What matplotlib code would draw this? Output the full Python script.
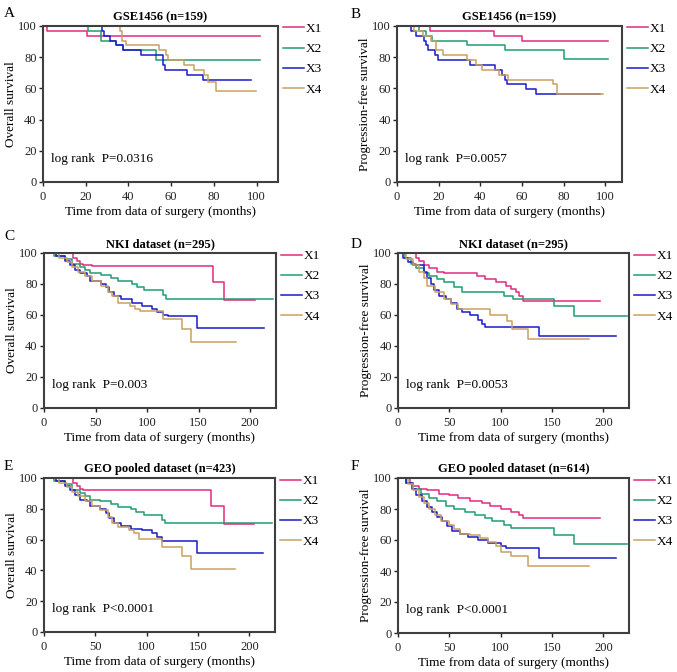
import matplotlib
matplotlib.use("Agg")
import matplotlib.pyplot as plt

plt.rcParams["font.family"] = ["Liberation Serif", "DejaVu Serif"]

# ── Data ───────────────────────────────────────────────────────────────────
GROUPS = ["X1", "X2", "X3", "X4"]
COLORS = ["#E2297E", "#1F9E6E", "#1A1AC8", "#C9A062"]

# A: GSE1456 OS
a_x1_t = [0, 2, 20.5, 101.5]
a_x1_s = [100, 96.9, 93.8, 93.8]
a_x2_t = [0, 21, 27, 34, 37.5, 53, 101.5]
a_x2_s = [100, 96.9, 90.6, 87.5, 84.4, 78.1, 78.1]
a_x3_t = [0, 27.5, 28.5, 31.5, 34, 37.5, 46, 56, 57, 67.5, 75, 97.5]
a_x3_s = [100, 96.9, 93.8, 90.6, 87.5, 84.4, 81.3, 75, 71.9, 68.8, 65.6, 65.6]
a_x4_t = [0, 36, 37, 39, 54.5, 57.5, 58.5, 66, 70.5, 75.5, 77, 81, 99.5]
a_x4_s = [100, 96.9, 90.6, 87.5, 84.4, 81.3, 78.1, 75, 71.9, 68.8, 64, 58.3, 58.3]

# B: GSE1456 PFS
b_x1_t = [0, 16, 46.5, 60, 101.5]
b_x1_s = [100, 96.9, 93.8, 90.6, 90.6]
b_x2_t = [0, 10.5, 14, 17, 33.5, 52, 80, 101.5]
b_x2_s = [100, 96.9, 93.8, 90.6, 87.5, 84.4, 78.7, 78.7]
b_x3_t = [0, 6.5, 9, 13, 14, 15, 18, 19.5, 35, 47, 50.5, 52, 53, 62, 66.5, 97.5]
b_x3_s = [100, 96.9, 93.8, 90.6, 87.5, 84.4, 81.3, 78.1, 75, 71.9, 68.8, 65.6, 62.5, 59.4, 56.3, 56.3]
b_x4_t = [0, 8, 12.5, 16.5, 18.5, 22, 33.5, 38, 41, 49, 53.5, 75, 77, 99]
b_x4_s = [100, 96.9, 93.8, 90.6, 84.4, 81.3, 78.1, 75, 71.9, 68.8, 65.6, 62.5, 56.3, 56.3]

# C: NKI OS
c_x1_t = [0, 28, 32, 35, 38, 47, 164, 175, 205]
c_x1_s = [100, 97, 95, 93, 92.5, 91.7, 81.3, 69.8, 69.8]
c_x2_t = [0, 10, 20, 27, 35, 40, 45, 55, 65, 72, 85, 90, 97, 115, 118, 222]
c_x2_s = [100, 98, 96, 93, 91, 89, 87, 86, 84, 82, 80, 78, 76, 73, 70.5, 70.5]
c_x3_t = [0, 12, 20, 25, 30, 35, 42, 45, 55, 60, 63, 68, 75, 85, 95, 105, 110, 115, 120, 148, 213]
c_x3_s = [100, 98, 95, 92, 89, 87, 85, 82, 80, 78, 75, 72, 70, 68, 66, 64, 62, 60, 59.4, 51.7, 51.7]
c_x4_t = [0, 15, 22, 27, 33, 40, 47, 55, 62, 66, 72, 83, 88, 93, 115, 134, 143, 186]
c_x4_s = [100, 97, 94, 91, 88, 85, 82, 79, 75, 72, 68, 66, 64, 62.5, 57.5, 51, 42.4, 42.4]

# D: NKI PFS
d_x1_t = [0, 18, 20, 25, 30, 38, 45, 77, 85, 95, 105, 110, 115, 118, 122, 197]
d_x1_s = [100, 97, 95, 92, 90, 88, 87, 85, 83, 81, 79, 77, 75, 72, 69.2, 69.2]
d_x2_t = [0, 7, 13, 18, 25, 30, 38, 45, 55, 62, 103, 112, 152, 171, 223]
d_x2_s = [100, 97, 93, 90, 87, 85, 83, 81, 78, 75, 72, 70, 65.5, 59.4, 59.4]
d_x3_t = [0, 5, 10, 15, 25, 28, 32, 35, 40, 47, 52, 57, 62, 70, 78, 82, 85, 137, 212]
d_x3_s = [100, 97, 94, 92, 88, 84, 80, 76, 72, 70, 68, 64, 62, 60, 57, 54, 52.5, 46.7, 46.7]
d_x4_t = [0, 8, 15, 20, 25, 28, 36, 45, 52, 58, 90, 106, 111, 127, 186]
d_x4_s = [100, 96, 92, 88, 84, 78.5, 75, 70, 67, 64, 60, 56, 51, 44.3, 44.3]

# E: GEO pooled OS
e_x1_t = [0, 28, 32, 35, 38, 47, 163, 175, 205]
e_x1_s = [100, 97, 95, 93, 92.5, 92, 82, 70.2, 70.2]
e_x2_t = [0, 10, 20, 27, 35, 40, 45, 55, 65, 72, 85, 90, 97, 115, 118, 222]
e_x2_s = [100, 98, 96, 92, 90, 88, 86, 85, 83, 81, 80, 78, 76, 73, 70.6, 70.6]
e_x3_t = [0, 12, 20, 25, 30, 35, 42, 45, 55, 60, 63, 68, 75, 85, 95, 105, 110, 115, 149, 213]
e_x3_s = [100, 98, 95, 92, 89, 86, 85, 82, 80, 77, 74, 71, 69, 67, 66, 64, 62, 59, 51.5, 51.5]
e_x4_t = [0, 15, 22, 27, 33, 40, 47, 55, 62, 66, 72, 83, 88, 93, 115, 134, 143, 186]
e_x4_s = [100, 97, 94, 91, 88, 85, 82, 79, 75, 71, 68, 66, 64, 60.5, 55.5, 49.5, 41.1, 41.1]

# F: GEO pooled PFS
f_x1_t = [0, 12, 15, 20, 28, 40, 50, 58, 70, 82, 90, 100, 110, 118, 122, 197]
f_x1_s = [100, 97, 95, 93, 92, 90, 89, 87, 85, 84, 82, 80, 78, 76, 73.9, 73.9]
f_x2_t = [0, 8, 15, 22, 30, 38, 47, 55, 65, 75, 85, 92, 103, 110, 152, 171, 223]
f_x2_s = [100, 97, 93, 90, 87, 85, 82, 80, 78, 76, 74, 72, 70, 67.8, 63.5, 57.2, 57.2]
f_x3_t = [0, 8, 14, 18, 23, 28, 33, 38, 43, 48, 53, 60, 68, 78, 88, 100, 105, 137, 212]
f_x3_s = [100, 97, 93, 89, 85, 81, 78, 75, 72, 69, 66, 64, 62, 60, 58, 56, 54.6, 48.5, 48.5]
f_x4_t = [0, 10, 15, 20, 25, 30, 36, 42, 50, 55, 60, 70, 80, 88, 95, 100, 110, 127, 186]
f_x4_s = [100, 96, 92, 88, 84, 80, 76, 72, 70, 67, 64, 63, 61, 59, 56, 52, 50, 43.5, 43.5]

LETTERS = ["A", "B", "C", "D", "E", "F"]
TITLES = ["GSE1456 (n=159)", "GSE1456 (n=159)", "NKI dataset (n=295)",
          "NKI dataset (n=295)", "GEO pooled dataset (n=423)", "GEO pooled dataset (n=614)"]
YLABELS = ["Overall survival", "Progression-free survival"] * 3
PVALUES = ["P=0.0316", "P=0.0057", "P=0.003", "P=0.0053", "P<0.0001", "P<0.0001"]
XLIMS = [110, 108, 225, 225, 225, 225]
XTICKS = [[0, 20, 40, 60, 80, 100], [0, 20, 40, 60, 80, 100]] + [[0, 50, 100, 150, 200]] * 4

CURVES = [
    [(a_x1_t, a_x1_s), (a_x2_t, a_x2_s), (a_x3_t, a_x3_s), (a_x4_t, a_x4_s)],
    [(b_x1_t, b_x1_s), (b_x2_t, b_x2_s), (b_x3_t, b_x3_s), (b_x4_t, b_x4_s)],
    [(c_x1_t, c_x1_s), (c_x2_t, c_x2_s), (c_x3_t, c_x3_s), (c_x4_t, c_x4_s)],
    [(d_x1_t, d_x1_s), (d_x2_t, d_x2_s), (d_x3_t, d_x3_s), (d_x4_t, d_x4_s)],
    [(e_x1_t, e_x1_s), (e_x2_t, e_x2_s), (e_x3_t, e_x3_s), (e_x4_t, e_x4_s)],
    [(f_x1_t, f_x1_s), (f_x2_t, f_x2_s), (f_x3_t, f_x3_s), (f_x4_t, f_x4_s)],
]

# ── Layout (pixel boxes: left, top, right, bottom) ─────────────────────────
W, H = 677, 672
BOXES = [(43, 26, 278, 182), (397, 26, 622, 182),
         (44, 253, 276, 408), (398, 253, 629, 408),
         (44, 478, 275, 632), (398, 478, 629, 633)]
LETTER_POS = [(4, 7), (351, 8), (4, 230), (351, 238), (4, 460), (351, 460)]

fig = plt.figure(figsize=(W / 100, H / 100), dpi=100)

for i in range(6):
    l, t, r, b = BOXES[i]
    ax = fig.add_axes([l / W, 1 - b / H, (r - l) / W, (b - t) / H])
    for (ts, ss), name, col in zip(CURVES[i], GROUPS, COLORS):
        ax.step(ts, ss, where="post", color=col, lw=1.1, label=name)

    ax.set_xlim(0, XLIMS[i])
    ax.set_ylim(0, 100)
    ax.set_xticks(XTICKS[i])
    ax.set_yticks([0, 20, 40, 60, 80, 100])
    ax.tick_params(direction="out", length=3, width=1, labelsize=9,
                   colors="#222222")
    ax.tick_params(axis="x", pad=3.5)
    ax.tick_params(axis="y", pad=1.5)
    for sp in ax.spines.values():
        sp.set_color("#3f3f3f")
        sp.set_linewidth(1.5)

    ax.set_title(TITLES[i], fontsize=9, fontweight="bold", pad=4)
    ax.set_ylabel(YLABELS[i], fontsize=9.5, labelpad=1)
    ax.set_xlabel("Time from data of surgery (months)", fontsize=9.5, labelpad=2)
    ax.text(0.035, 0.15, "log rank  " + PVALUES[i], transform=ax.transAxes,
            fontsize=9.5, va="center", ha="left")

    ax.legend(loc="upper left", bbox_to_anchor=(1.02, 1.02), frameon=False,
              fontsize=9.5, handlelength=1.6, handletextpad=0.15,
              labelspacing=0.6, borderaxespad=0, borderpad=0)

    lx, ly = LETTER_POS[i]
    fig.text(lx / W, 1 - ly / H, LETTERS[i], fontsize=11, va="top", ha="left")

fig.savefig("out.png", dpi=100)
